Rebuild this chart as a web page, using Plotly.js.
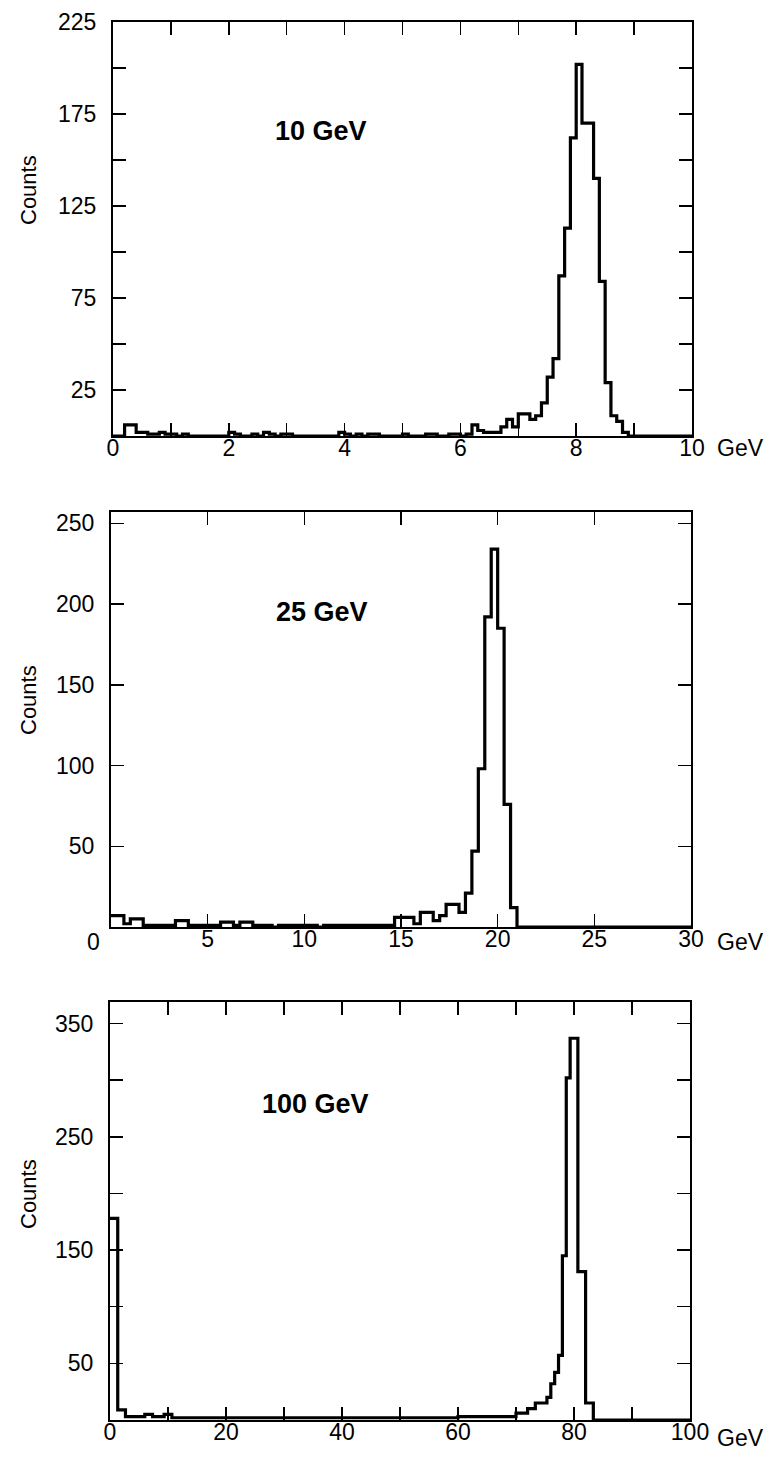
<!DOCTYPE html>
<html><head><meta charset="utf-8">
<script src="https://cdn.plot.ly/plotly-3.0.1.min.js"></script>
<style>html,body{margin:0;padding:0;background:#fff}#chart{width:775px;height:1458px}</style>
</head><body><div id="chart"></div>
<script>
// ---------- DATA ----------
// Panel 1: 10 GeV beam, bins of 0.1 GeV from 0 to 10 GeV
const binWidth10 = 0.1;
const counts10 = [
  0,0,6,6,2,2,1,1,2,1,
  1,0,1,0,0,0,0,0,0,0,
  2,1,0,0,1,0,2,1,0,1,
  1,0,0,0,0,0,0,0,0,2,
  1,0,1,0,1,1,0,0,0,0,
  1,0,0,0,1,1,0,0,1,1,
  0,1,6,3,2,2,2,5,9,5,
  12,12,9,11,18,32,42,87,113,162,
  202,170,170,140,84,29,11,8,2,0,
  0,0,0,0,0,0,0,0,0,0
];
// Panel 2: 25 GeV beam, bins of 1/3 GeV from 0 to 30 GeV
const binWidth25 = 1/3;
const counts25 = [
  7,7,2,5,5,1,1,1,1,1,
  4,4,1,1,1,1,1,3,3,1,
  3,3,1,1,1,0,1,1,1,1,
  1,1,0,1,1,1,1,1,1,1,
  1,1,1,1,6,6,6,2,9,9,
  4,7,14,14,9,21,47,98,192,234,
  185,76,12,0,0,0,0,0,0,0,
  0,0,0,0,0,0,0,0,0,0,
  0,0,0,0,0,0,0,0,0,0
];
// Panel 3: 100 GeV beam, bins of 2/3 GeV from 0 to 100 GeV
const binWidth100 = 2/3;
const counts100 = [
  178,178,9,9,3,3,3,3,3,5,
  5,3,3,3,5,5,2,2,2,2,
  2,2,2,2,2,2,2,2,2,2,
  2,2,2,2,2,2,2,2,2,2,
  2,2,2,2,2,2,2,2,2,2,
  2,2,2,2,2,2,2,2,2,2,
  2,2,2,2,2,2,2,2,2,2,
  2,2,2,2,2,2,2,2,2,2,
  2,2,2,2,2,2,2,2,2,2,
  3,3,3,3,3,3,3,3,3,3,
  3,3,3,3,3,6,6,6,10,10,
  15,15,15,20,32,42,57,145,302,337,
  337,131,131,15,15,0,0,0,0,0,
  0,0,0,0,0,0,0,0,0,0,
  0,0,0,0,0,0,0,0,0,0
];
// Axis ranges and ticks
const xRange10 = [0,10],  yRange10 = [0,225];
const xRange25 = [0,30],  yRange25 = [0,257];
const xRange100 = [0,100], yRange100 = [0,369];
const xTicks10 = [0,1,2,3,4,5,6,7,8,9,10];
const xText10  = ['0','','2','','4','','6','','8','','10'];
const yTicks10 = [25,50,75,100,125,150,175,200,225];
const yText10  = ['25','','75','','125','','175','','225'];
const xTicks25 = [0,5,10,15,20,25,30];
const xText25  = ['','5','10','15','20','25','30'];
const yTicks25 = [50,100,150,200,250];
const yText25  = ['50','100','150','200','250'];
const xTicks100 = [0,10,20,30,40,50,60,70,80,90,100];
const xText100  = ['0','','20','','40','','60','','80','','100'];
const yTicks100 = [50,100,150,200,250,300,350];
const yText100  = ['50','','150','','250','','350'];
const beamLabels = ['10 GeV','25 GeV','100 GeV'];

// ---------- BUILD ----------
function stepTrace(counts, bw, xa, ya){
  const x=[], y=[];
  for(let i=0;i<counts.length;i++){ x.push(i*bw); y.push(counts[i]); }
  x.push(counts.length*bw); y.push(counts[counts.length-1]);
  return {type:'scatter', mode:'lines', x:x, y:y, xaxis:xa, yaxis:ya,
          line:{shape:'hv', color:'#000', width:3.2}, hoverinfo:'skip', showlegend:false};
}
const W=775, H=1458;
const FONT = 'Liberation Sans, Arial, Helvetica, sans-serif';
const tickFont = {family:FONT, size:23, color:'#000'};
function xax(dom, range, tv, tt, anchor){
  return {domain:[dom[0]/W, dom[1]/W], range:range, anchor:anchor, showline:true, mirror:'allticks',
    linecolor:'#000', linewidth:2, ticks:'inside', ticklen:13, tickwidth:1.5, tickcolor:'#000',
    tickmode:'array', tickvals:tv, ticktext:tt, showgrid:false, zeroline:false, tickfont:tickFont,
    ticklabelstandoff:-10, fixedrange:true};
}
function yax(dom, range, tv, tt, anchor){
  return {domain:[1-dom[1]/H, 1-dom[0]/H], range:range, anchor:anchor, showline:true, mirror:'allticks',
    linecolor:'#000', linewidth:2, ticks:'inside', ticklen:13, tickwidth:1.5, tickcolor:'#000',
    tickmode:'array', tickvals:tv, ticktext:tt, showgrid:false, zeroline:false, tickfont:tickFont,
    ticklabelstandoff:10, fixedrange:true};
}
const data = [
  stepTrace(counts10, binWidth10, 'x', 'y'),
  stepTrace(counts25, binWidth25, 'x2', 'y2'),
  stepTrace(counts100, binWidth100, 'x3', 'y3')
];
function ann(text, x, y, opts){
  return Object.assign({text:text, xref:'paper', yref:'paper', x:x/W, y:1-y/H, showarrow:false,
    font:{family:FONT, size:22, color:'#000'}, xanchor:'center', yanchor:'middle'}, opts||{});
}
const annotations = [
  ann('Counts', 28, 190, {textangle:-90}),
  ann('Counts', 28, 700, {textangle:-90}),
  ann('Counts', 28, 1194, {textangle:-90}),
  ann('GeV', 740, 448, {font:{family:FONT,size:23,color:'#000'}}),
  ann('GeV', 740, 942, {font:{family:FONT,size:23,color:'#000'}}),
  ann('GeV', 740, 1438, {font:{family:FONT,size:23,color:'#000'}}),
  ann('0', 93, 942, {font:{family:FONT,size:23,color:'#000'}}),
  {text:'<b>'+beamLabels[0]+'</b>', xref:'x', yref:'y', x:3.6, y:166, showarrow:false,
   font:{family:FONT,size:27,color:'#000'}},
  {text:'<b>'+beamLabels[1]+'</b>', xref:'x2', yref:'y2', x:10.9, y:195, showarrow:false,
   font:{family:FONT,size:27,color:'#000'}},
  {text:'<b>'+beamLabels[2]+'</b>', xref:'x3', yref:'y3', x:35.5, y:279, showarrow:false,
   font:{family:FONT,size:27,color:'#000'}}
];
const layout = {
  width:W, height:H, margin:{l:0,r:0,t:0,b:0}, paper_bgcolor:'#fff', plot_bgcolor:'#fff',
  showlegend:false, font:{family:FONT, color:'#000'},
  xaxis: xax([113,692], xRange10, xTicks10, xText10, 'y'),
  yaxis: yax([22,436], yRange10, yTicks10, yText10, 'x'),
  xaxis2: xax([111,691], xRange25, xTicks25, xText25, 'y2'),
  yaxis2: yax([512,927], yRange25, yTicks25, yText25, 'x2'),
  xaxis3: xax([110,690], xRange100, xTicks100, xText100, 'y3'),
  yaxis3: yax([1002,1420], yRange100, yTicks100, yText100, 'x3'),
  annotations: annotations
};
Plotly.newPlot('chart', data, layout, {staticPlot:true, displayModeBar:false});
</script></body></html>
